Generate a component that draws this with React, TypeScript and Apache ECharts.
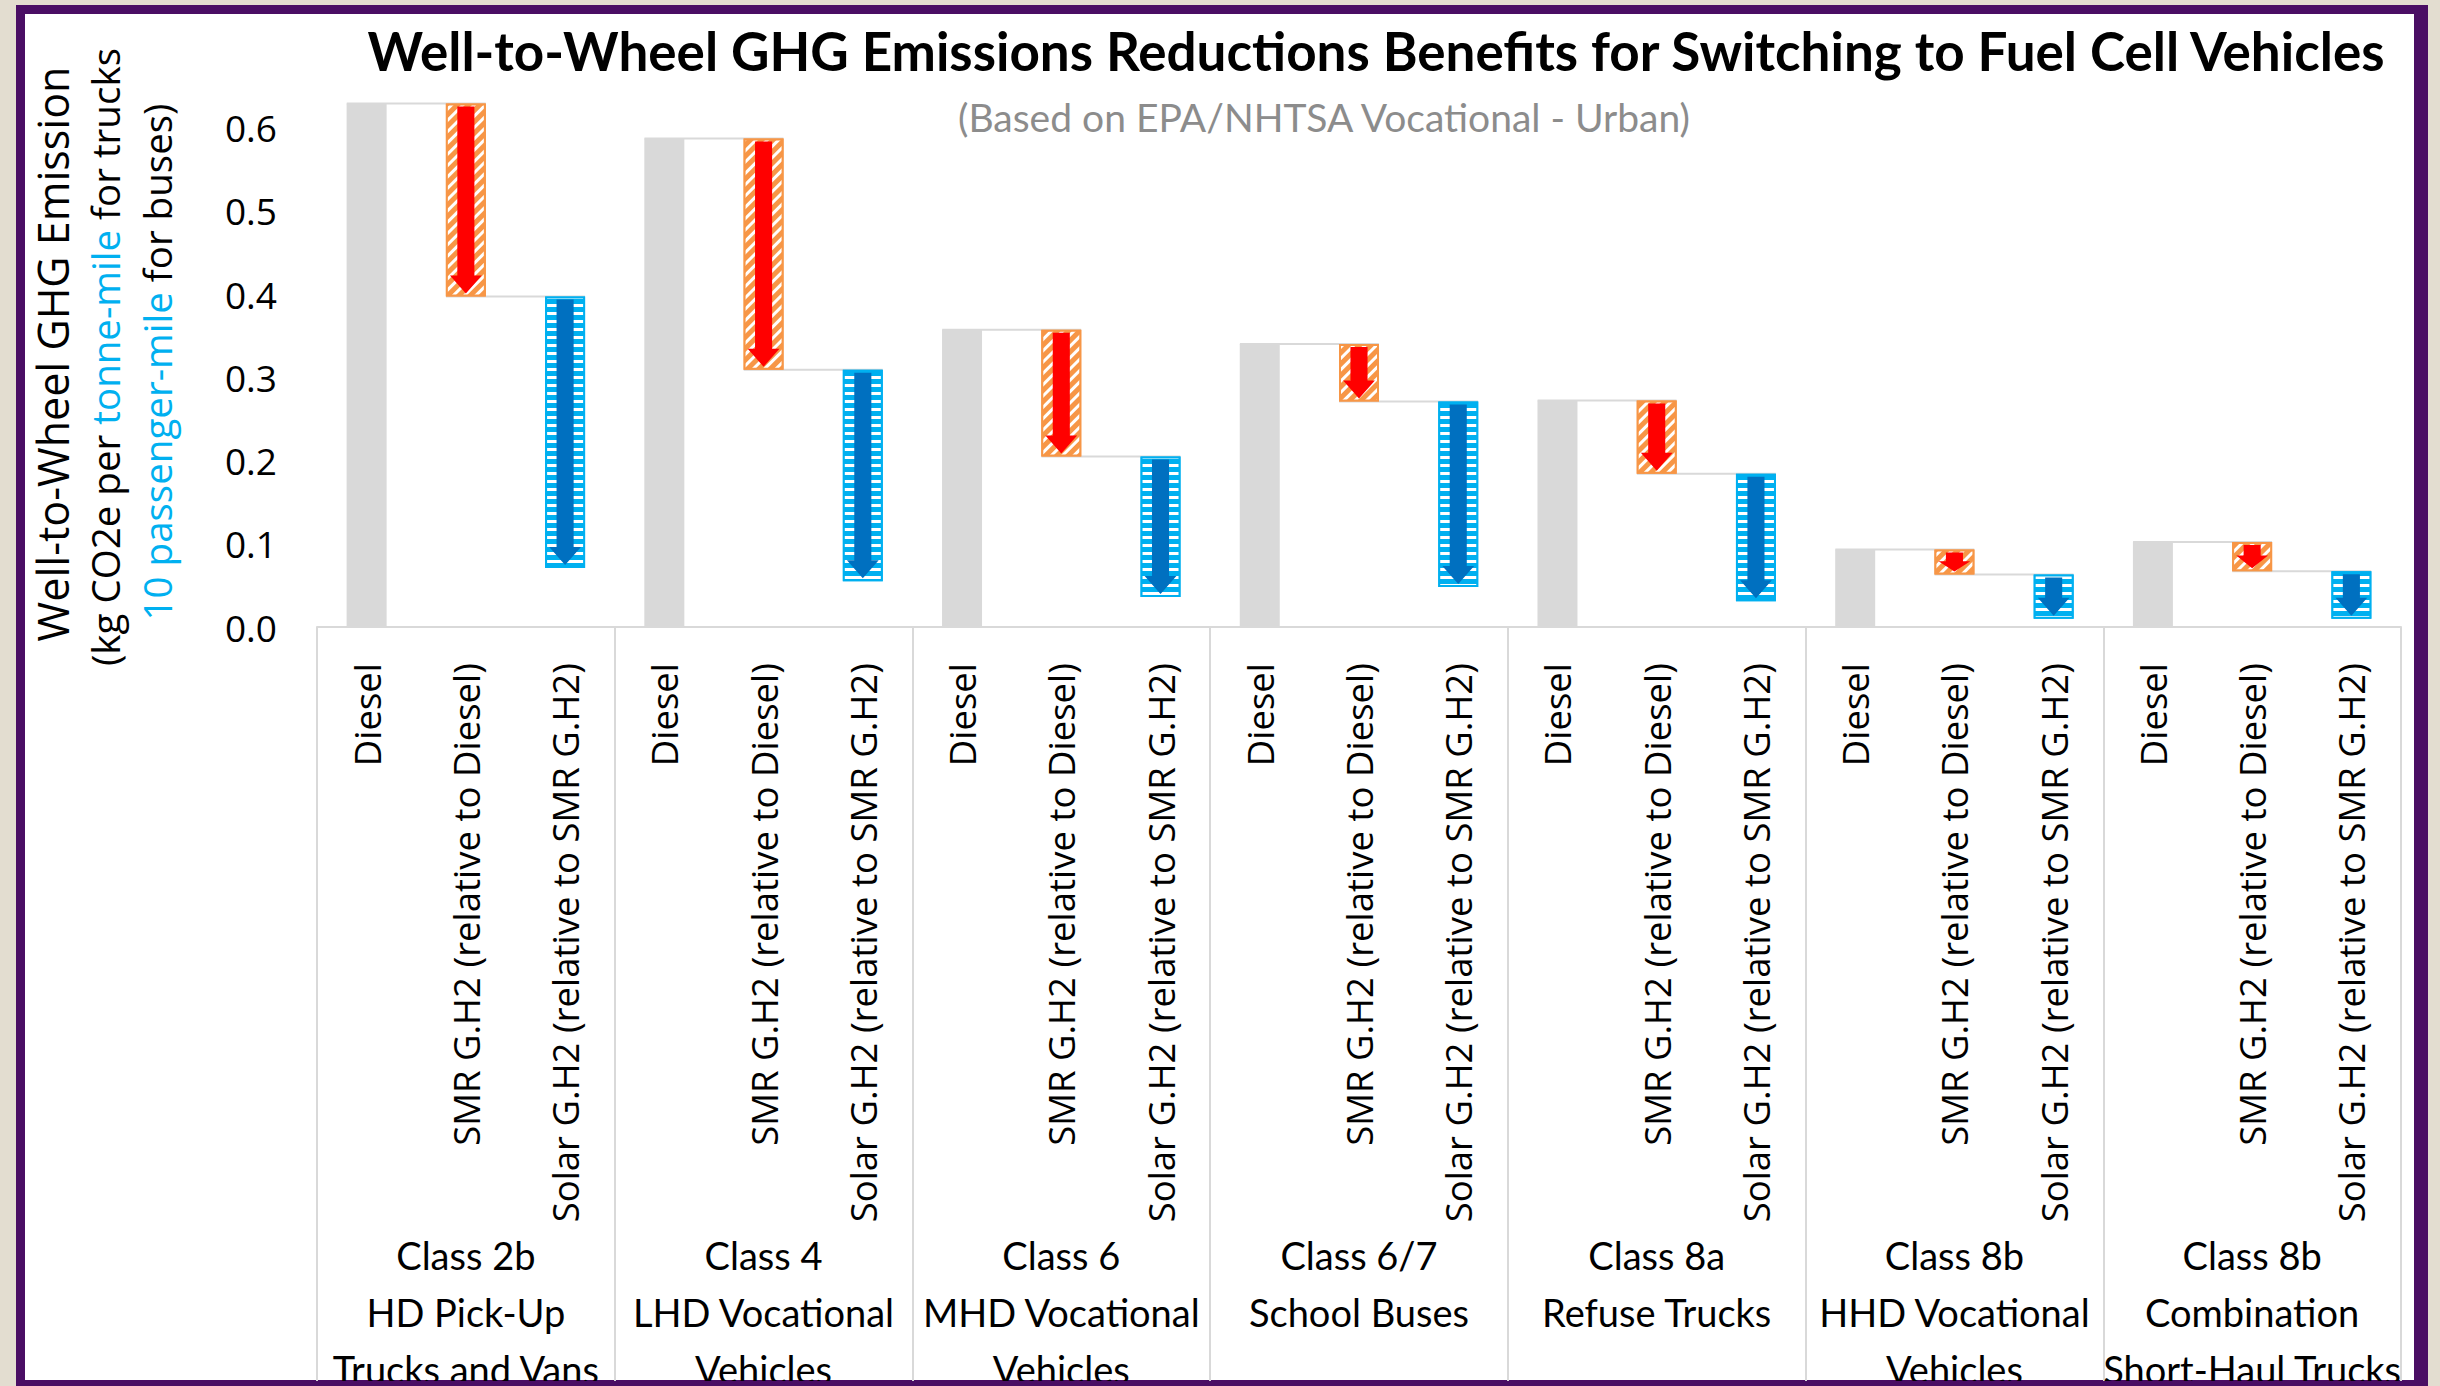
import React, { useEffect, useRef } from 'react';
import * as echarts from 'echarts';

// ---------- data ----------
const groupLabels = [
  'Class 2b\nHD Pick-Up\nTrucks and Vans',
  'Class 4\nLHD Vocational\nVehicles',
  'Class 6\nMHD Vocational\nVehicles',
  'Class 6/7\nSchool Buses',
  'Class 8a\nRefuse Trucks',
  'Class 8b\nHHD Vocational\nVehicles',
  'Class 8b\nCombination\nShort-Haul Trucks',
];
const scenarioLabels = ['Diesel', 'SMR G.H2 (relative to Diesel)', 'Solar G.H2 (relative to SMR G.H2)'];
const dieselValues = [0.629, 0.587, 0.357, 0.340, 0.272, 0.093, 0.102];
const smrValues = [0.397, 0.309, 0.205, 0.271, 0.184, 0.063, 0.067];
const solarValues = [0.071, 0.055, 0.036, 0.048, 0.031, 0.010, 0.010];
const yMax = 0.65;
const yInterval = 0.1;

const titleText = 'Well-to-Wheel GHG Emissions Reductions Benefits for Switching to Fuel Cell Vehicles';
const subtitleText = '(Based on EPA/NHTSA Vocational - Urban)';

// ---------- colours ----------
const GRAY = '#D9D9D9';
const ORANGE = '#F79646';
const RED = '#FF0000';
const CYAN = '#00B0F0';
const DARKBLUE = '#0070C0';
const PURPLE = '#4A0E64';
const BEIGE = '#E3DDD0';

export default function App() {
  const ref = useRef<HTMLDivElement>(null);

  useEffect(() => {
    document.body.style.margin = '0';
    document.body.style.overflow = 'hidden';
    const chart = echarts.init(ref.current!, null, { renderer: 'svg' });

    const categories: string[] = [];
    const baseData: number[] = [];
    const deltaData: any[] = [];
    const arrowData: number[][] = [];
    const connectorData: number[][] = [];

    groupLabels.forEach((_, g) => {
      scenarioLabels.forEach((s) => categories.push(g + '|' + s));
      const d = dieselValues[g], m = smrValues[g], so = solarValues[g];
      baseData.push(0);
      deltaData.push({ value: d, itemStyle: { color: GRAY } });
      baseData.push(m);
      deltaData.push({
        value: d - m,
        itemStyle: {
          color: ORANGE,
          borderColor: ORANGE,
          borderWidth: 2,
          decal: {
            symbol: 'rect',
            symbolSize: 1,
            color: '#FFFFFF',
            dashArrayX: [1, 0],
            dashArrayY: [2.5, 4.5],
            rotation: -Math.PI / 4,
          },
        },
      });
      baseData.push(so);
      deltaData.push({
        value: m - so,
        itemStyle: {
          color: CYAN,
          borderColor: CYAN,
          borderWidth: 2,
          decal: {
            symbol: 'rect',
            symbolSize: 1,
            color: '#FFFFFF',
            dashArrayX: [1, 0],
            dashArrayY: [3, 5],
            rotation: 0,
          },
        },
      });
      arrowData.push([g * 3 + 1, d, m, 0]);
      arrowData.push([g * 3 + 2, m, so, 1]);
      connectorData.push([g * 3, d]);
      connectorData.push([g * 3 + 1, m]);
    });

    const barW = 40;
    const center = { align: 'center', verticalAlign: 'middle', textAlign: 'center', textVerticalAlign: 'middle' };

    const option: any = {
      animation: false,
      backgroundColor: BEIGE,
      graphic: [
        { type: 'rect', z: -100, shape: { x: 16, y: 5, width: 2412, height: 1400 }, style: { fill: PURPLE } },
        { type: 'rect', z: -99, shape: { x: 25, y: 14, width: 2389, height: 1366 }, style: { fill: '#FFFFFF' } },
        { type: 'rect', z: 100, shape: { x: 16, y: 1381, width: 2412, height: 10 }, style: { fill: PURPLE } },
        {
          type: 'text', x: 1376, y: 50, z: 10,
          style: { text: titleText, fill: '#000', fontFamily: 'Lato', fontWeight: 'bold', fontSize: 53, ...center },
        },
        {
          type: 'text', x: 1324, y: 117, z: 10,
          style: { text: subtitleText, fill: '#8C8C8C', fontFamily: 'Lato', fontSize: 39, ...center },
        },
        {
          type: 'text', x: 52, y: 354, rotation: Math.PI / 2, z: 10,
          style: { text: 'Well-to-Wheel GHG Emission', fill: '#000', fontFamily: 'Open Sans', fontSize: 43, ...center },
        },
        {
          type: 'text', x: 105, y: 357, rotation: Math.PI / 2, z: 10,
          style: {
            text: '(kg CO2e per {c|tonne-mile} for trucks', fill: '#000', fontFamily: 'Open Sans', fontSize: 38.5, ...center,
            rich: { c: { fill: CYAN, fontFamily: 'Open Sans', fontSize: 38.5 } },
          },
        },
        {
          type: 'text', x: 157, y: 362, rotation: Math.PI / 2, z: 10,
          style: {
            text: '{c|10 passenger-mile} for buses)', fill: '#000', fontFamily: 'Open Sans', fontSize: 38.5, ...center,
            rich: { c: { fill: CYAN, fontFamily: 'Open Sans', fontSize: 38.5 } },
          },
        },
      ],
      grid: { left: 317, right: 39, top: 86, bottom: 759, containLabel: false, outerBoundsMode: 'none' },
      xAxis: [
        {
          type: 'category',
          data: categories,
          axisLine: { show: true, lineStyle: { color: GRAY, width: 2 } },
          axisTick: { show: false },
          splitLine: { show: false },
          axisLabel: {
            interval: 0, rotate: 90, margin: 36, fontFamily: 'Open Sans', fontSize: 36.5, color: '#000',
            formatter: (v: string) => v.split('|')[1],
          },
        },
        {
          type: 'category',
          data: groupLabels,
          position: 'bottom',
          axisLine: { show: false },
          axisTick: { show: true, interval: 0, length: 770, lineStyle: { color: GRAY, width: 2 } },
          splitLine: { show: false },
          axisLabel: {
            interval: 0, margin: 599, lineHeight: 57, fontFamily: 'Lato', fontSize: 38, color: '#000',
          },
        },
      ],
      yAxis: {
        type: 'value', min: 0, max: yMax, interval: yInterval,
        axisLine: { show: false }, axisTick: { show: false }, splitLine: { show: false },
        axisLabel: {
          margin: 40, fontFamily: 'Open Sans', fontSize: 37, color: '#000',
          formatter: (v: number) => (v > 0.61 ? '' : v.toFixed(1)),
        },
      },
      series: [
        {
          type: 'custom',
          z: 1,
          silent: true,
          data: connectorData,
          encode: { x: 0, y: 1 },
          renderItem: (params: any, api: any) => {
            const i = api.value(0);
            const v = api.value(1);
            const p1 = api.coord([i, v]);
            const p2 = api.coord([i + 1, v]);
            const w = api.size([1, 0])[0] * 0.4;
            return {
              type: 'line',
              shape: { x1: p1[0] - w / 2, y1: p1[1], x2: p2[0] + w / 2, y2: p2[1] },
              style: { stroke: GRAY, lineWidth: 2 },
            };
          },
        },
        {
          type: 'bar', stack: 'w', barWidth: barW, silent: true, z: 2,
          itemStyle: { color: 'rgba(0,0,0,0)' },
          data: baseData,
        },
        {
          type: 'bar', stack: 'w', barWidth: barW, silent: true, z: 2,
          data: deltaData,
        },
        {
          type: 'custom',
          z: 5,
          silent: true,
          data: arrowData,
          encode: { x: 0, y: [1, 2] },
          renderItem: (params: any, api: any) => {
            const i = api.value(0);
            const top = api.value(1);
            const bot = api.value(2);
            const kind = api.value(3);
            const pt = api.coord([i, top]);
            const pb = api.coord([i, bot]);
            const cx = pt[0];
            const w = api.size([1, 0])[0] * 0.4;
            const y0 = pt[1] + 3;
            const y1 = pb[1] - 3;
            const len = y1 - y0;
            const hh = Math.min(18, len * 0.55);
            const sw = w * 0.43;
            const hw = w * 0.8;
            return {
              type: 'polygon',
              shape: {
                points: [
                  [cx - sw / 2, y0],
                  [cx + sw / 2, y0],
                  [cx + sw / 2, y1 - hh],
                  [cx + hw / 2, y1 - hh],
                  [cx, y1],
                  [cx - hw / 2, y1 - hh],
                  [cx - sw / 2, y1 - hh],
                ],
              },
              style: { fill: kind === 0 ? RED : DARKBLUE },
            };
          },
        },
      ],
    };

    chart.setOption(option);
    return () => chart.dispose();
  }, []);

  return <div ref={ref} style={{ width: 2440, height: 1386 }} />;
}
